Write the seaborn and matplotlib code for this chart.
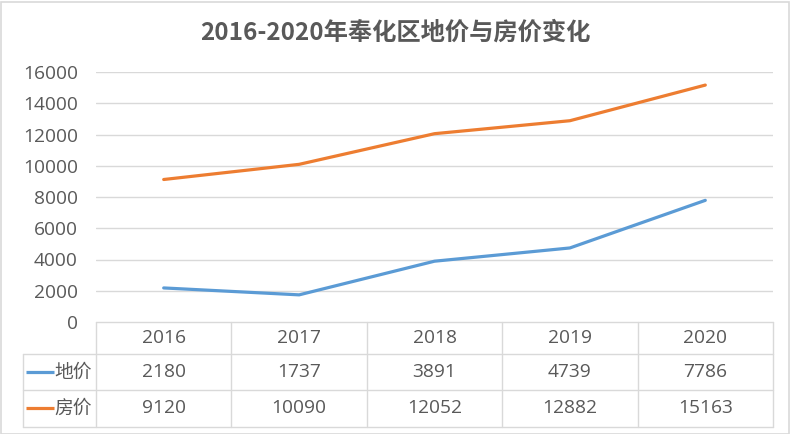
import matplotlib
matplotlib.use("Agg")
import matplotlib.pyplot as plt
import seaborn as sns
import pandas as pd
from matplotlib.patches import Rectangle

years = ["2016", "2017", "2018", "2019", "2020"]
land_price = [2180, 1737, 3891, 4739, 7786]
house_price = [9120, 10090, 12052, 12882, 15163]
series_names = ["地价", "房价"]
colors = ["#5B9BD5", "#ED7D31"]
title = "2016-2020年奉化区地价与房价变化"
yticks = [0, 2000, 4000, 6000, 8000, 10000, 12000, 14000, 16000]

sns.set_theme(style="white")
plt.rcParams['font.family'] = ['Open Sans', 'Noto Sans CJK SC', 'DejaVu Sans']

W, H = 790, 434
fig = plt.figure(figsize=(W / 100, H / 100), dpi=100)
txt = "#595959"
grid = "#d9d9d9"
fs = 13.8

fig.patches.append(Rectangle((0.5 / W, 0.5 / H), 1 - 2 / W, 1 - 2 / H, transform=fig.transFigure,
                             fill=False, edgecolor=grid, linewidth=1.2))

def fx(px):
    return px / W

def fy(py):
    return 1 - py / H

L, R, T, B = 96, 773, 72, 322
ax = fig.add_axes([fx(L), fy(B), fx(R) - fx(L), fy(T) - fy(B)])

df = pd.DataFrame({
    "x": list(range(len(years))) * 2,
    "value": land_price + house_price,
    "series": [series_names[0]] * len(years) + [series_names[1]] * len(years),
})
sns.lineplot(data=df, x="x", y="value", hue="series", palette=colors, linewidth=2.3,
             ax=ax, legend=False)
ax.set_xlim(-0.5, len(years) - 0.5)
ax.set_ylim(0, 16000)
ax.set_yticks(yticks)
ax.set_yticklabels([str(v) for v in yticks], color=txt, fontsize=fs)
ax.set_xticks([])
ax.set_xlabel("")
ax.set_ylabel("")
ax.tick_params(axis="y", length=0, pad=13)
for v in yticks[1:]:
    ax.axhline(v, color=grid, linewidth=1, zorder=0)
for s in ax.spines.values():
    s.set_visible(False)

# data table
TL = 23
rows = [322, 354, 390, 427]
tax = fig.add_axes([fx(TL), fy(rows[-1]), fx(R) - fx(TL), fy(rows[0]) - fy(rows[-1])])
colw = (R - L) / len(years)
x0 = -0.5 - (L - TL) / colw
tax.set_xlim(x0, len(years) - 0.5)
tax.set_ylim(rows[-1], rows[0])
tax.axis("off")
lw = 1.0
for i in range(len(years) + 1):
    xv = -0.5 + i
    tax.plot([xv, xv], [rows[0], rows[-1]], color=grid, lw=lw, clip_on=False)
tax.plot([x0, x0], [rows[1], rows[-1]], color=grid, lw=lw, clip_on=False)
tax.plot([-0.5, len(years) - 0.5], [rows[0], rows[0]], color=grid, lw=lw, clip_on=False)
for r in rows[1:]:
    tax.plot([x0, len(years) - 0.5], [r, r], color=grid, lw=lw, clip_on=False)

for i, y in enumerate(years):
    tax.text(i, (rows[0] + rows[1]) / 2, y, ha="center", va="center", color=txt, fontsize=fs)
for j, vals in enumerate([land_price, house_price]):
    yc = (rows[j + 1] + rows[j + 2]) / 2
    for i, v in enumerate(vals):
        tax.text(i, yc, str(v), ha="center", va="center", color=txt, fontsize=fs)
    tax.plot([x0 + 3 / colw, x0 + 31 / colw], [yc, yc], color=colors[j], lw=2.3,
             solid_capstyle="butt", clip_on=False)
    tax.text(-0.5 - 4 / colw, yc, series_names[j], ha="right", va="center", color=txt, fontsize=13.5,
             family=['Noto Sans CJK SC', 'DejaVu Sans'])

fig.text(0.5, fy(33), title, ha="center", va="center", fontsize=17.5, fontweight="bold", color=txt,
         family=['Noto Sans CJK SC', 'DejaVu Sans'])

fig.savefig("out.png", dpi=100)
